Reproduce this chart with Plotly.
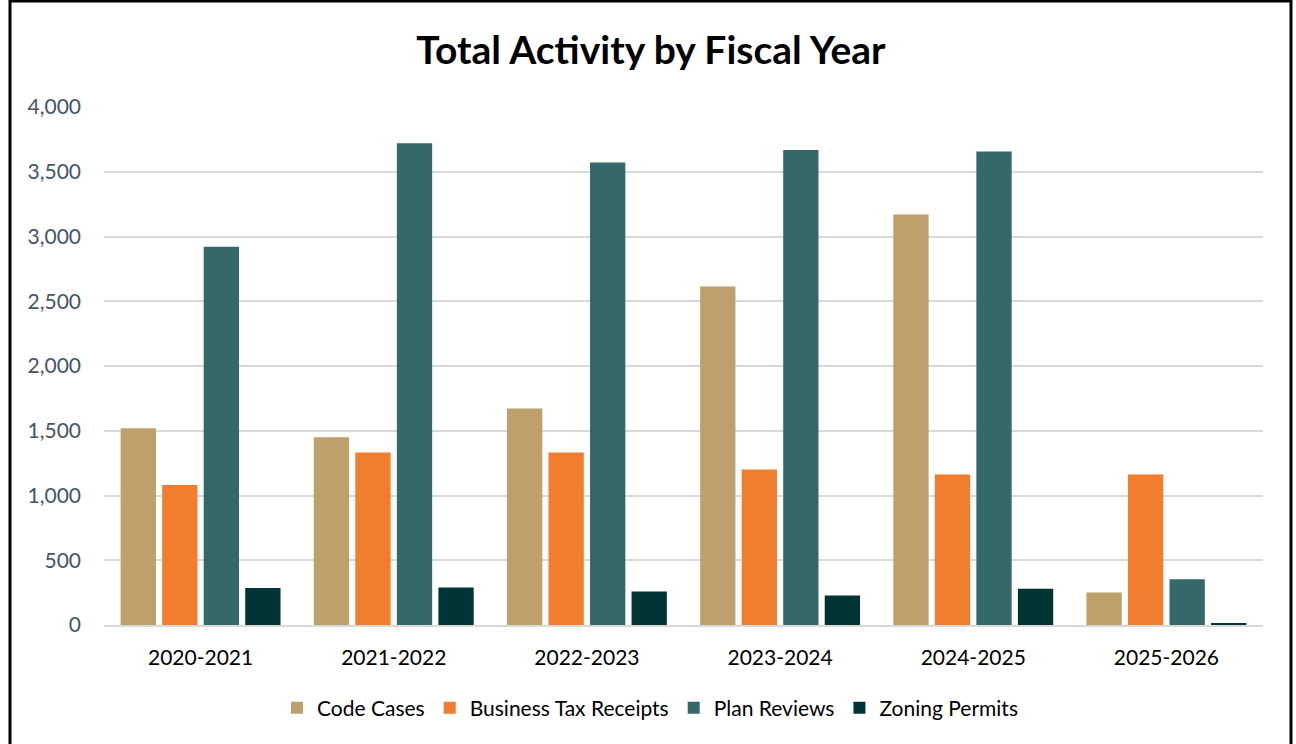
import plotly.graph_objects as go

years = ["2020-2021", "2021-2022", "2022-2023", "2023-2024", "2024-2025", "2025-2026"]
code_cases = [1520, 1450, 1672, 2614, 3170, 251]
business_tax_receipts = [1081, 1332, 1332, 1200, 1162, 1162]
plan_reviews = [2920, 3720, 3572, 3667, 3657, 354]
zoning_permits = [286, 290, 259, 228, 280, 15]
y_ticks = [0, 500, 1000, 1500, 2000, 2500, 3000, 3500, 4000]

series = [
    ("Code Cases", code_cases, "#BDA06B"),
    ("Business Tax Receipts", business_tax_receipts, "#F07E2E"),
    ("Plan Reviews", plan_reviews, "#356868"),
    ("Zoning Permits", zoning_permits, "#013535"),
]

FONT = "Lato"

fig = go.Figure()
for name, vals, col in series:
    fig.add_trace(go.Bar(x=years, y=vals, name=name, marker=dict(color=col, line=dict(width=0))))

L, R, T, B = 104, 33, 107, 119
W, H = 1296, 744
pw, ph = W - L - R, H - T - B

def px(x):
    return (x - L) / pw

def py(y):
    return 1 - (y - T) / ph

fig.update_layout(
    width=W, height=H,
    margin=dict(l=L, r=R, t=T, b=B, pad=0),
    paper_bgcolor="white", plot_bgcolor="white",
    barmode="group", bargap=0.14, bargroupgap=0.15,
    font=dict(family=FONT, size=21, color="#000000"),
    title=dict(text="<b>Total Activity by Fiscal Year</b>", x=651 / W, xref="container", xanchor="center",
               y=1 - 50 / H, yanchor="middle", font=dict(size=39, family=FONT, color="#000000")),
    showlegend=True,
    legend=dict(orientation="h", x=px(650), xanchor="center", y=py(708), yanchor="middle",
                font=dict(size=21, color="#000000"), itemclick=False, traceorder="normal"),
    xaxis=dict(showgrid=False, showline=True, linecolor="#D9D9D9", linewidth=2, ticks="",
               tickfont=dict(size=21, color="#000000"), ticklabelstandoff=13),
    yaxis=dict(range=[0, 4000], tickvals=y_ticks, tickformat=",", showgrid=True, gridcolor="#D9D9D9",
               gridwidth=1.5, zeroline=False, showline=False, ticks="",
               tickfont=dict(size=21, color="#44546A"), ticklabelstandoff=22),
    shapes=[dict(type="path", xref="paper", yref="paper",
                 path=f"M {px(10)} {py(800)} L {px(10)} {py(1)} L {px(1291)} {py(1)} L {px(1291)} {py(800)}",
                 line=dict(color="#000000", width=3))],
)

fig.write_html("out.html")
